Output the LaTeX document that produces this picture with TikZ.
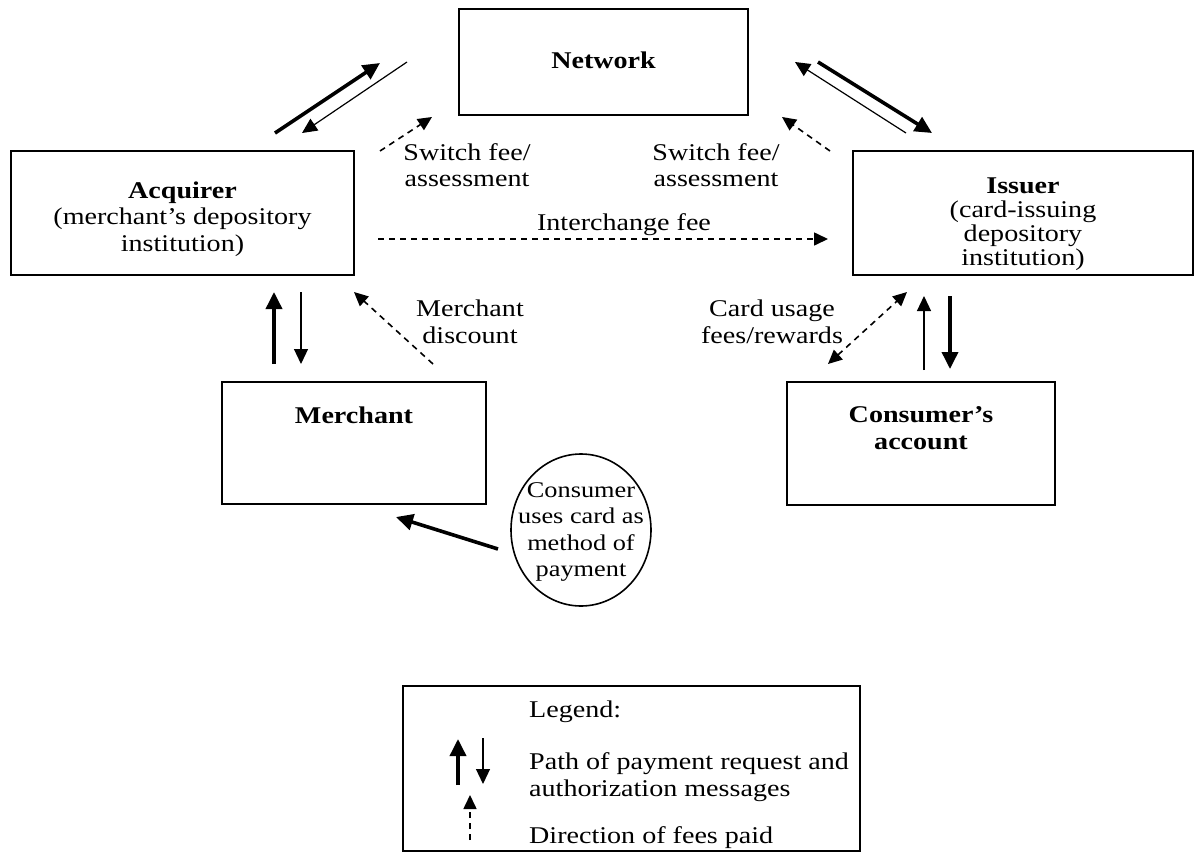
\documentclass[tikz,border=0pt]{standalone}
\usepackage{fontspec}
\setmainfont{Liberation Serif}[FakeStretch=1.17]
\usetikzlibrary{arrows.meta,shapes.geometric}
\begin{document}
\begin{tikzpicture}[x=1pt,y=-1pt,
  box/.style={draw,line width=1.8pt,inner sep=0pt},
  lbl/.style={font=\fontsize{24}{26.5}\selectfont,align=center,inner sep=0pt},
  msgbold/.style={line width=3.6pt,-{Triangle[length=17pt,width=16pt]}},
  msgthin/.style={line width=1.2pt,-{Triangle[length=15pt,width=14pt]}},
  fee/.style={line width=1.6pt,dash pattern=on 6pt off 5pt,-{Triangle[length=14pt,width=13pt]}},
  feeboth/.style={fee,{Triangle[length=14pt,width=13pt]}-{Triangle[length=14pt,width=13pt]}},
]
\useasboundingbox (0,0) rectangle (1195,852);

% boxes
\node[box,minimum width=289pt,minimum height=106pt] (network) at (603.5,62) {};
\node[box,minimum width=343pt,minimum height=124pt] (acquirer) at (182.5,213) {};
\node[box,minimum width=340pt,minimum height=124pt] (issuer) at (1023,213) {};
\node[box,minimum width=264pt,minimum height=122pt] (merchant) at (354,443) {};
\node[box,minimum width=268pt,minimum height=123pt] (consumer) at (921,443.5) {};
\node[draw,ellipse,line width=1.6pt,minimum width=140pt,minimum height=152pt,inner sep=0pt] (card) at (581,530) {};
\node[draw,line width=2.6pt,minimum width=457pt,minimum height=165pt,inner sep=0pt] (legend) at (631.5,768.5) {};

% box texts
\node[lbl] (networkt) at (603.5,60) {\textbf{Network}};
\node[lbl] (acquirert) at (182.5,219) {\textbf{Acquirer}\\(merchant’s depository\\institution)};
\node[lbl,font=\fontsize{24}{24}\selectfont] (issuert) at (1023,224) {\textbf{Issuer}\\(card-issuing\\depository\\institution)};
\node[lbl] (merchantt) at (354,415) {\textbf{Merchant}};
\node[lbl] (consumert) at (921,428) {\textbf{Consumer’s}\\\textbf{account}};
\node[lbl,font=\fontsize{22.5}{26.5}\selectfont] (cardt) at (581,532) {Consumer\\uses card as\\method of\\payment};

% flow labels
\node[lbl] (swl) at (467,165) {Switch fee/\\assessment};
\node[lbl] (swr) at (716,165) {Switch fee/\\assessment};
\node[lbl] (ichg) at (624,225) {Interchange fee};
\node[lbl] (mdisc) at (470,322) {Merchant\\discount};
\node[lbl] (cuse) at (772,322) {Card usage\\fees/rewards};

% arrow end points
\coordinate (a1s) at (275,133); \coordinate (a1e) at (380,63);
\coordinate (a2s) at (407,62);  \coordinate (a2e) at (302,133);
\coordinate (i1s) at (906,133); \coordinate (i1e) at (795,62);
\coordinate (i2s) at (818,62);  \coordinate (i2e) at (932,133);
\coordinate (s1s) at (380,151); \coordinate (s1e) at (432,117);
\coordinate (s2s) at (830,151); \coordinate (s2e) at (782,117);
\coordinate (ics) at (378,239); \coordinate (ice) at (828,239);
\coordinate (m1s) at (274,364); \coordinate (m1e) at (274,292);
\coordinate (m2s) at (301,292); \coordinate (m2e) at (301,364);
\coordinate (mds) at (433,364); \coordinate (mde) at (354,292);
\coordinate (cus) at (828,364); \coordinate (cue) at (907,292);
\coordinate (c1s) at (924,370); \coordinate (c1e) at (924,296);
\coordinate (c2s) at (950,296); \coordinate (c2e) at (950,369);
\coordinate (pays) at (498,549); \coordinate (paye) at (396,517);

% payment request / authorization messages
\draw[msgbold] (a1s) -- (a1e);
\draw[msgthin] (a2s) -- (a2e);
\draw[msgthin] (i1s) -- (i1e);
\draw[msgbold] (i2s) -- (i2e);
\draw[msgbold] (m1s) -- (m1e);
\draw[msgthin] (m2s) -- (m2e);
\draw[msgthin] (c1s) -- (c1e);
\draw[msgbold] (c2s) -- (c2e);
\draw[msgbold] (pays) -- (paye);

% fees
\draw[fee] (s1s) -- (s1e);
\draw[fee] (s2s) -- (s2e);
\draw[fee] (ics) -- (ice);
\draw[fee] (mds) -- (mde);
\draw[feeboth] (cus) -- (cue);

% legend
\node[lbl,anchor=west] (lgt) at (529,712) {Legend:};
\node[lbl,anchor=west,align=left] (lgp) at (529,777) {Path of payment request and\\authorization messages};
\node[lbl,anchor=west] (lgd) at (529,838) {Direction of fees paid};
\coordinate (l1s) at (458,785); \coordinate (l1e) at (458,739);
\coordinate (l2s) at (483,738); \coordinate (l2e) at (483,784);
\coordinate (l3s) at (470,840); \coordinate (l3e) at (470,795);
\draw[msgbold] (l1s) -- (l1e);
\draw[msgthin] (l2s) -- (l2e);
\draw[fee] (l3s) -- (l3e);
\end{tikzpicture}
\end{document}
